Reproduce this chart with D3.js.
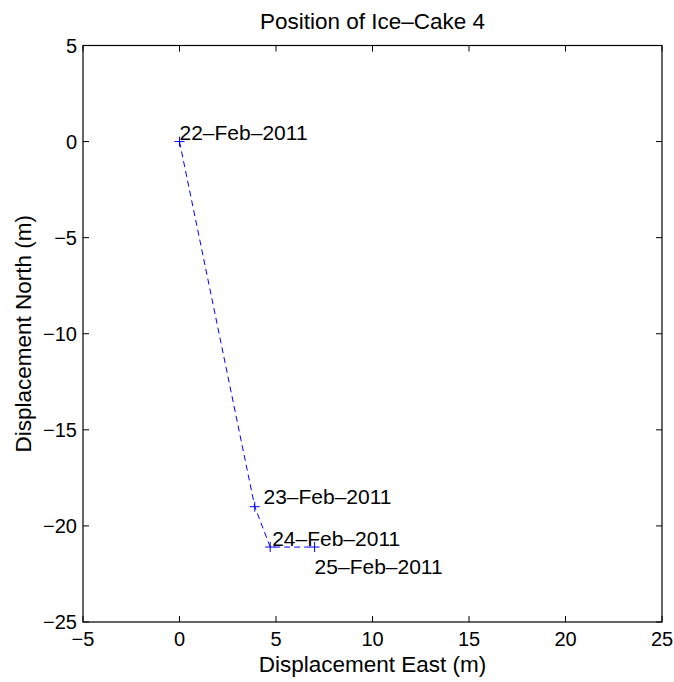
<!DOCTYPE html>
<html>
<head>
<script src="https://cdn.jsdelivr.net/npm/d3@7"></script>
<style>
body{ margin:0; background:white; }
text{ font-family:"Liberation Sans", Arial, sans-serif; fill:#000; }
</style>
</head>
<body>
<div id="chart"></div>
<script>
// positions of the ice cake (m)
var east = [0, 3.9, 4.7, 7.0];
var north = [0, -19.0, -21.1, -21.1];
var dates = ["22\u2013Feb\u20132011", "23\u2013Feb\u20132011", "24\u2013Feb\u20132011", "25\u2013Feb\u20132011"];
// where the date labels sit (data units)
var labelEast = [0.0, 4.35, 4.8, 7.0];
var labelNorth = [0.45, -18.5, -20.65, -22.1];
var xTicks = [-5, 0, 5, 10, 15, 20, 25];
var yTicks = [-25, -20, -15, -10, -5, 0, 5];

var W = 674, H = 682;
var m = {left:83, right:12, top:45.5, bottom:60};
var fs = 20, fsLab = 22.5, fsDate = 21;

var svg = d3.select('#chart').append('svg')
	.attr('width', W)
	.attr('height', H);

var x = d3.scaleLinear().domain([-5, 25]).range([m.left, W - m.right]);
var y = d3.scaleLinear().domain([-25, 5]).range([H - m.bottom, m.top]);

function fmt(d){ return d < 0 ? '\u2212' + Math.abs(d) : String(d); }

var g = svg.append('g');
var tl = 6;

// ticks on all four sides, pointing in
xTicks.forEach(function(t){
	g.append('line').attr('x1', x(t)).attr('x2', x(t)).attr('y1', y(-25)).attr('y2', y(-25) - tl).attr('stroke', '#000');
	g.append('line').attr('x1', x(t)).attr('x2', x(t)).attr('y1', y(5)).attr('y2', y(5) + tl).attr('stroke', '#000');
	g.append('text').attr('x', x(t)).attr('y', y(-25) + 24).attr('text-anchor', 'middle')
		.style('font-size', fs + 'px').text(fmt(t));
});
yTicks.forEach(function(t){
	g.append('line').attr('y1', y(t)).attr('y2', y(t)).attr('x1', x(-5)).attr('x2', x(-5) + tl).attr('stroke', '#000');
	g.append('line').attr('y1', y(t)).attr('y2', y(t)).attr('x1', x(25)).attr('x2', x(25) - tl).attr('stroke', '#000');
	g.append('text').attr('x', x(-5) - 6).attr('y', y(t) + 7).attr('text-anchor', 'end')
		.style('font-size', fs + 'px').text(fmt(t));
});

g.append('rect')
	.attr('x', x(-5)).attr('y', y(5))
	.attr('width', x(25) - x(-5)).attr('height', y(-25) - y(5))
	.attr('fill', 'none').attr('stroke', '#000').attr('stroke-width', 1.2);

var pts = east.map(function(e, i){ return [e, north[i]]; });

var line = d3.line().x(function(d){ return x(d[0]); }).y(function(d){ return y(d[1]); });

svg.append('path')
	.datum(pts)
	.attr('d', line)
	.attr('fill', 'none')
	.attr('stroke', '#0000ff')
	.attr('stroke-width', 1)
	.attr('stroke-dasharray', '6,4');

var ms = 5;
pts.forEach(function(d){
	svg.append('path')
		.attr('d', 'M' + (x(d[0]) - ms) + ',' + y(d[1]) + 'h' + (2 * ms) + 'M' + x(d[0]) + ',' + (y(d[1]) - ms) + 'v' + (2 * ms))
		.attr('stroke', '#0000ff')
		.attr('stroke-width', 1);
});

dates.forEach(function(s, i){
	svg.append('text')
		.attr('x', x(labelEast[i]))
		.attr('y', y(labelNorth[i]))
		.attr('dy', '0.35em')
		.style('font-size', fsDate + 'px')
		.text(s);
});

// title and axis labels
svg.append('text').attr('x', (x(-5) + x(25)) / 2).attr('y', 29).attr('text-anchor', 'middle')
	.style('font-size', fsLab + 'px').text('Position of Ice\u2013Cake 4');
svg.append('text').attr('x', (x(-5) + x(25)) / 2).attr('y', 672).attr('text-anchor', 'middle')
	.style('font-size', fsLab + 'px').text('Displacement East (m)');
svg.append('text')
	.attr('transform', 'translate(31,' + ((y(5) + y(-25)) / 2) + ') rotate(-90)')
	.attr('text-anchor', 'middle')
	.style('font-size', fsLab + 'px').text('Displacement North (m)');
</script>
</body>
</html>
